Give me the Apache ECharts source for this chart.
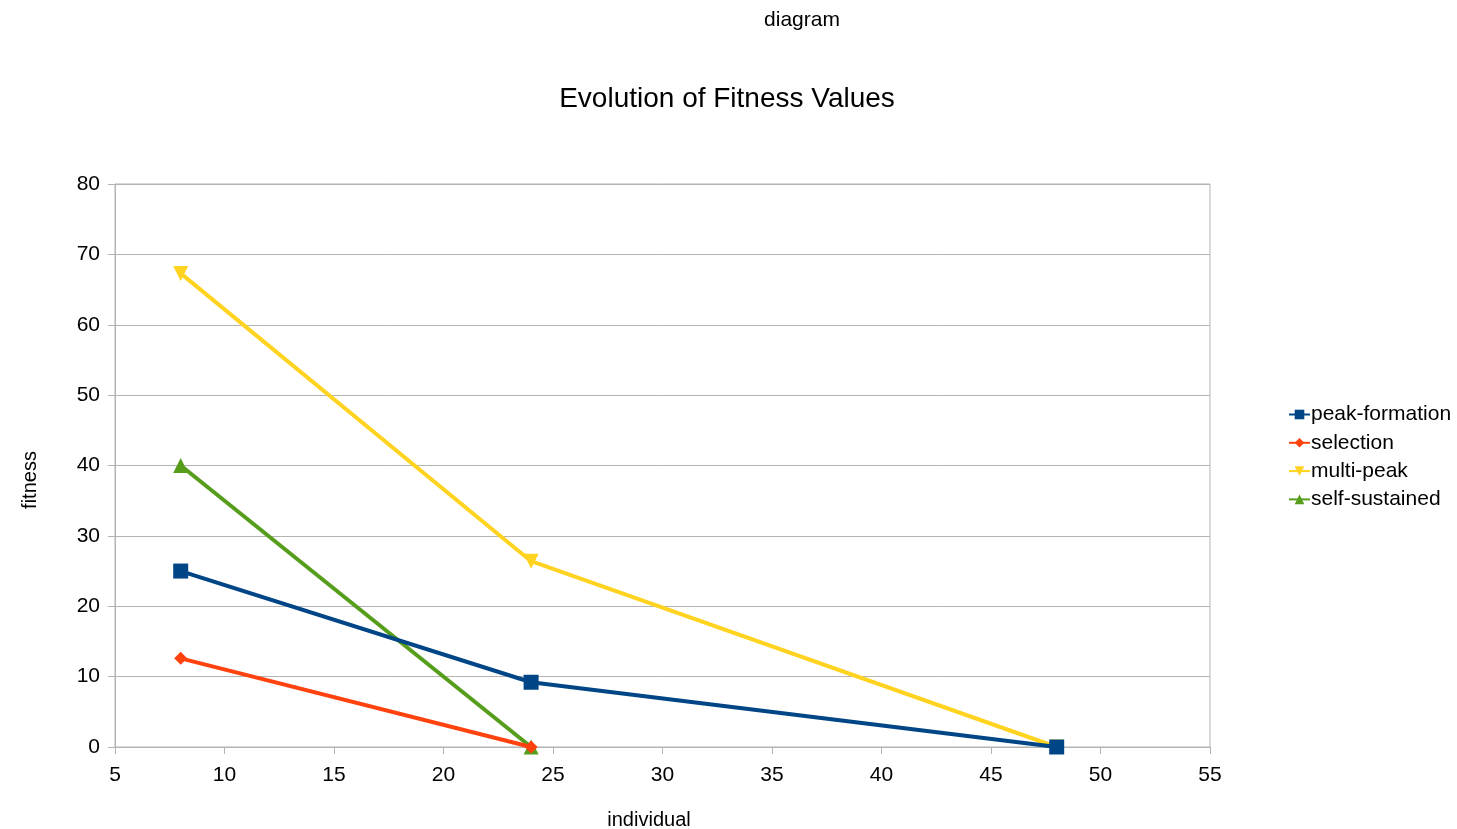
<!DOCTYPE html>
<html><head><meta charset="utf-8">
<script src="https://cdn.jsdelivr.net/npm/echarts@6/dist/echarts.min.js"></script>
<style>html,body{margin:0;padding:0;background:#fff}#c{width:1457px;height:829px}</style>
</head><body><div id="c"></div>
<script>
const seriesNames = ['peak-formation', 'selection', 'multi-peak', 'self-sustained'];
const peakFormation = [[8, 25], [24, 9.2], [48, 0]];
const selection = [[8, 12.6], [24, 0]];
const multiPeak = [[8, 67.3], [24, 26.4], [48, 0]];
const selfSustained = [[8, 40], [24, 0]];
const colors = ['#004586', '#ff420e', '#ffd320', '#579d1c'];
const symbols = ['rect', 'diamond', 'path://M0,0 L10,0 L5,9 Z', 'triangle'];
const symbolSizes = [15, 13, 15, 15];
const zs = [5, 5, 3, 2];
const dataSets = [peakFormation, selection, multiPeak, selfSustained];

const font = 'Liberation Sans, Arial, sans-serif';
const chart = echarts.init(document.getElementById('c'));
chart.setOption({
  animation: false,
  textStyle: {fontFamily: font},
  legend: {
    orient: 'vertical', left: 1283, top: 399, itemGap: 7.3, itemWidth: 21, itemHeight: 12,
    textStyle: {fontSize: 21, color: '#000', fontFamily: font, padding: [0, 0, 0, -4]},
    data: seriesNames
  },
  grid: {left: 115, right: 247, top: 184, bottom: 82, containLabel: false, outerBoundsMode: 'none'},
  xAxis: {
    type: 'value', min: 5, max: 55, interval: 5,
    axisLine: {show: true, lineStyle: {color: '#b3b3b3', width: 1}},
    axisTick: {show: true, length: 7, lineStyle: {color: '#b3b3b3'}},
    axisLabel: {fontSize: 21, color: '#000', margin: 18, fontFamily: font},
    splitLine: {show: false}
  },
  yAxis: {
    type: 'value', min: 0, max: 80, interval: 10,
    axisLine: {show: true, lineStyle: {color: '#b3b3b3', width: 1}},
    axisTick: {show: true, length: 7, lineStyle: {color: '#b3b3b3'}},
    axisLabel: {fontSize: 21, color: '#000', margin: 15, fontFamily: font},
    splitLine: {show: true, lineStyle: {color: '#b3b3b3', width: 1}}
  },
  graphic: [
    {type: 'rect', shape: {x: 115, y: 184, width: 1095, height: 563}, style: {fill: 'none', stroke: '#b3b3b3', lineWidth: 1}, silent: true, z: 0},
    {type: 'text', x: 802, y: 20, style: {text: 'diagram', font: '21px ' + font, fill: '#000', textAlign: 'center', textVerticalAlign: 'middle'}},
    {type: 'text', x: 727, y: 99, style: {text: 'Evolution of Fitness Values', font: '28px ' + font, fill: '#000', textAlign: 'center', textVerticalAlign: 'middle'}},
    {type: 'text', x: 649, y: 820, style: {text: 'individual', font: '20px ' + font, fill: '#000', textAlign: 'center', textVerticalAlign: 'middle'}},
    {type: 'text', x: 30, y: 480, rotation: Math.PI / 2, style: {text: 'fitness', font: '20px ' + font, fill: '#000', textAlign: 'center', textVerticalAlign: 'middle'}}
  ],
  series: seriesNames.map((n, i) => ({
    name: n, type: 'line', data: dataSets[i], z: zs[i],
    symbol: symbols[i], symbolSize: symbolSizes[i], showSymbol: true,
    lineStyle: {color: colors[i], width: 4},
    itemStyle: {color: colors[i]}
  }))
});
</script></body></html>
